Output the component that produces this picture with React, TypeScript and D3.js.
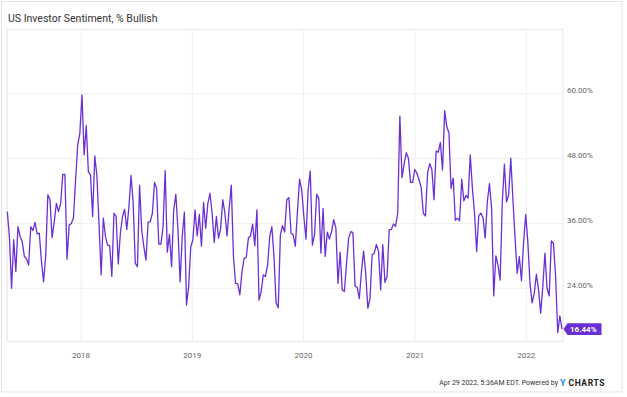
import React from "react";
import * as d3 from "d3";

const title = "US Investor Sentiment, % Bullish";
const startDate = "2017-05-04";
const endLabel = "16.44%";
const yTicks = [24, 36, 48, 60];
const xTickYears = [2018, 2019, 2020, 2021, 2022];
const footerText = "Apr 29 2022, 5:36AM EDT. Powered by";

// Weekly AAII % bullish (May 4 2017 .. Apr 28 2022)
const bullish = [
  38.2, 33.5, 24.0, 33.0, 27.1, 35.4, 33.6, 32.6, 29.9, 29.5,
  28.3, 35.4, 34.7, 36.2, 34.1, 34.2, 29.0, 25.2, 30.0, 41.3,
  40.4, 33.4, 36.3, 39.7, 38.2, 39.7, 45.1, 45.1, 29.4, 35.7,
  36.0, 37.0, 44.0, 50.5, 52.7, 59.8, 48.7, 54.1, 45.6, 45.0,
  37.3, 48.5, 44.8, 35.8, 26.5, 37.0, 33.6, 32.0, 31.9, 26.2,
  37.9, 37.3, 28.5, 34.2, 37.3, 38.6, 34.9, 39.0, 44.9, 39.8,
  28.6, 28.0, 43.1, 34.8, 31.7, 29.2, 36.3, 36.3, 37.9, 43.6,
  42.5, 32.2, 32.2, 35.4, 45.8, 30.7, 34.0, 28.0, 38.5, 41.4,
  34.8, 25.2, 33.6, 38.1, 20.9, 24.3, 31.7, 33.0, 38.5, 33.7,
  37.7, 31.8, 39.9, 35.1, 39.7, 41.6, 37.9, 32.5, 37.3, 33.3,
  35.1, 40.4, 37.9, 33.7, 38.8, 43.1, 29.9, 24.9, 24.8, 22.8,
  27.1, 29.6, 29.7, 33.3, 33.7, 35.9, 31.9, 38.5, 21.8, 23.4,
  26.5, 26.2, 28.3, 33.6, 35.4, 29.9, 21.3, 20.4, 33.9, 35.6,
  34.4, 40.4, 40.8, 34.2, 33.9, 31.8, 38.2, 44.2, 42.2, 37.3,
  33.1, 42.2, 45.7, 32.0, 33.9, 41.4, 40.7, 30.5, 38.8, 29.9,
  34.4, 33.1, 34.5, 36.7, 35.2, 24.9, 30.7, 23.7, 23.4, 28.6,
  33.3, 34.5, 34.3, 24.4, 24.2, 22.1, 27.1, 30.9, 26.8, 20.3,
  22.1, 30.2, 30.5, 32.1, 30.8, 23.7, 32.1, 25.1, 26.2, 34.8,
  34.9, 35.9, 35.5, 37.9, 55.9, 44.5, 47.0, 49.1, 48.1, 43.6,
  43.6, 46.0, 45.3, 44.1, 42.7, 37.9, 37.4, 45.4, 47.1, 46.0,
  40.4, 49.4, 49.2, 51.0, 45.9, 56.9, 53.9, 52.8, 42.5, 44.4,
  36.6, 37.0, 36.5, 44.2, 40.2, 41.2, 40.7, 48.7, 42.5, 37.9,
  30.8, 37.5, 37.9, 37.0, 33.3, 40.0, 43.4, 38.8, 22.6, 30.0,
  28.3, 25.5, 39.7, 47.0, 40.0, 41.3, 48.1, 40.4, 33.3, 26.8,
  29.9, 25.4, 32.5, 37.7, 32.5, 24.9, 21.3, 23.1, 26.6, 23.7,
  19.4, 24.3, 30.5, 24.0, 22.6, 32.8, 32.3, 26.2, 15.8, 18.9,
  16.44,
];

const W = 627;
const H = 397;
const PURPLE = "#6b2fd6";
const FONT = "Roboto, 'Noto Sans', sans-serif";

export default function App() {
  const start = new Date(startDate + "T00:00:00");
  const data = bullish.map((v, i) => ({
    date: d3.timeDay.offset(start, i * 7),
    value: v,
  }));
  const plotL = 7.3;
  const plotR = 563;
  const plotT = 29.3;
  const plotB = 341.7;

  const x = d3
    .scaleTime()
    .domain([data[0].date, data[data.length - 1].date])
    .range([7.3, 562.0]);
  const y = d3.scaleLinear().domain([24, 60]).range([288.3, 93.9]);

  const line = d3
    .line<{ date: Date; value: number }>()
    .x((d) => x(d.date))
    .y((d) => y(d.value));

  const last = data[data.length - 1];
  const lx = x(last.date) + 1.5;
  const ly = y(last.value);

  return (
    <svg
      width={W}
      height={H}
      style={{ position: "absolute", left: 0, top: 0, background: "#fff" }}
      fontFamily={FONT}
    >
      <rect x={1.5} y={1.5} width={620.5} height={390.5} fill="#fff" stroke="#e3e3e3" strokeWidth={1} />
      <text x={8} y={21.7} fontSize={10.5} fill="#333">
        {title}
      </text>
      {/* plot frame */}
      <rect
        x={plotL}
        y={plotT}
        width={plotR - plotL}
        height={plotB - plotT}
        fill="none"
        stroke="#e6e6e6"
        strokeWidth={1}
      />
      {yTicks.map((t) => (
        <g key={t}>
          <line x1={plotL} x2={plotR} y1={y(t)} y2={y(t)} stroke="#f0f0f0" strokeWidth={1} />
          <text x={567} y={y(t) - 0.5} fontSize={8} fill="#666">
            {t.toFixed(2) + "%"}
          </text>
        </g>
      ))}
      {xTickYears.map((yr) => {
        const xx = x(new Date(yr, 0, 1));
        return (
          <g key={yr}>
            <line x1={xx} x2={xx} y1={plotT} y2={plotB} stroke="#f0f0f0" strokeWidth={1} />
            <text x={xx} y={358} fontSize={8} fill="#666" textAnchor="middle">
              {yr}
            </text>
          </g>
        );
      })}
      <path
        d={line(data) || ""}
        fill="none"
        stroke={PURPLE}
        strokeWidth={1.3}
        strokeLinejoin="round"
      />
      {/* last value label */}
      <path
        d={`M${lx},${ly} L${lx + 4},${ly - 5.8} L${lx + 38},${ly - 5.8} L${lx + 38},${ly + 5.8} L${lx + 4},${ly + 5.8} Z`}
        fill={PURPLE}
      />
      <text x={lx + 6.5} y={ly + 3} fontSize={8} fontWeight="bold" fill="#fff">
        {endLabel}
      </text>
      {/* footer */}
      <text x={558} y={385} fontSize={7} fill="#333" textAnchor="end">
        {footerText}
      </text>
      <text x={560} y={385.5} fontSize={9} fontWeight="bold" fill="#1e8be6">
        Y
      </text>
      <text x={568.5} y={385.5} fontSize={8.5} fontWeight="bold" fill="#222" letterSpacing={0.6}>
        CHARTS
      </text>
    </svg>
  );
}
